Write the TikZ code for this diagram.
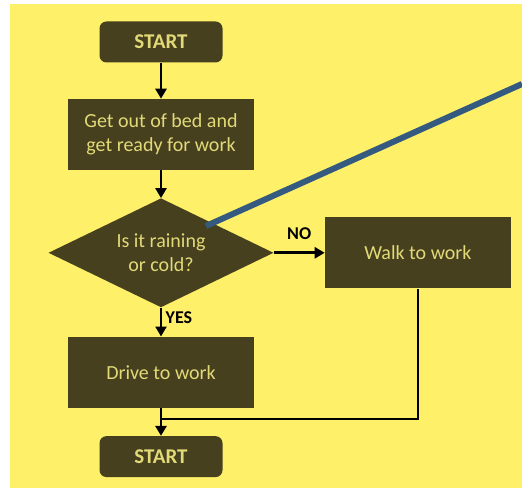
\documentclass[tikz,border=0pt]{standalone}
\usepackage{fontspec}
\setmainfont{Carlito}
\usetikzlibrary{positioning,shapes.geometric,arrows.meta}
\definecolor{bgyellow}{HTML}{FFF06A}
\definecolor{boxdark}{HTML}{46401F}
\definecolor{boxtext}{HTML}{E2D977}
\definecolor{pinblue}{HTML}{355A80}

\begin{document}
\begin{tikzpicture}[x=1pt, y=-1pt, node distance={28pt},
  box/.style = {fill=boxdark, text=boxtext, align=center, minimum width=186pt, minimum height=71pt, inner sep=2pt, font=\fontsize{20}{24}\selectfont},
  term/.style = {box, rounded corners=7pt, minimum width=123pt, minimum height=41pt, font=\bfseries\fontsize{21}{26}\selectfont},
  decide/.style = {box, diamond, shape aspect=2, minimum width=225pt, minimum height=109pt, inner sep=0pt},
  flow/.style = {line width=2.7pt, -{Triangle[length=10pt, width=11pt]}},
  answer/.style = {font=\bfseries\fontsize{18}{20}\selectfont}]
\fill[bgyellow] (10,4) rectangle (522,488);
\useasboundingbox (0,0) rectangle (522,489);
\node[term] (start) at (161,42) {START};
\node[box] (ready) [below=36pt of start] {Get out of bed and\\get ready for work};
\node[decide] (weather) [below=28pt of ready] {Is it raining\\or cold?};
\node[box] (walk) [right=51pt of weather] {Walk to work};
\node[box] (drive) [below=29pt of weather] {Drive to work};
\node[term] (finish) [below=28pt of drive] {START};
\coordinate[below=11pt of drive] (merge);
\draw[flow] (start) -- (ready);
\draw[flow] (ready) -- (weather);
\draw[flow] (weather) -- node[answer, above=8pt] (no) {NO} (walk);
\draw[flow] (weather) -- node[answer, right, pos=0.35] (yes) {YES} (drive);
\draw[flow] (drive) -- (finish);
\draw[line width=2.7pt] (walk.south) |- (merge);
% pointer line
\coordinate (pin) at (206,226);
\coordinate (edge) at (522,84);
\draw[pinblue, line width=6pt] (pin) -- (edge);
\end{tikzpicture}
\end{document}
